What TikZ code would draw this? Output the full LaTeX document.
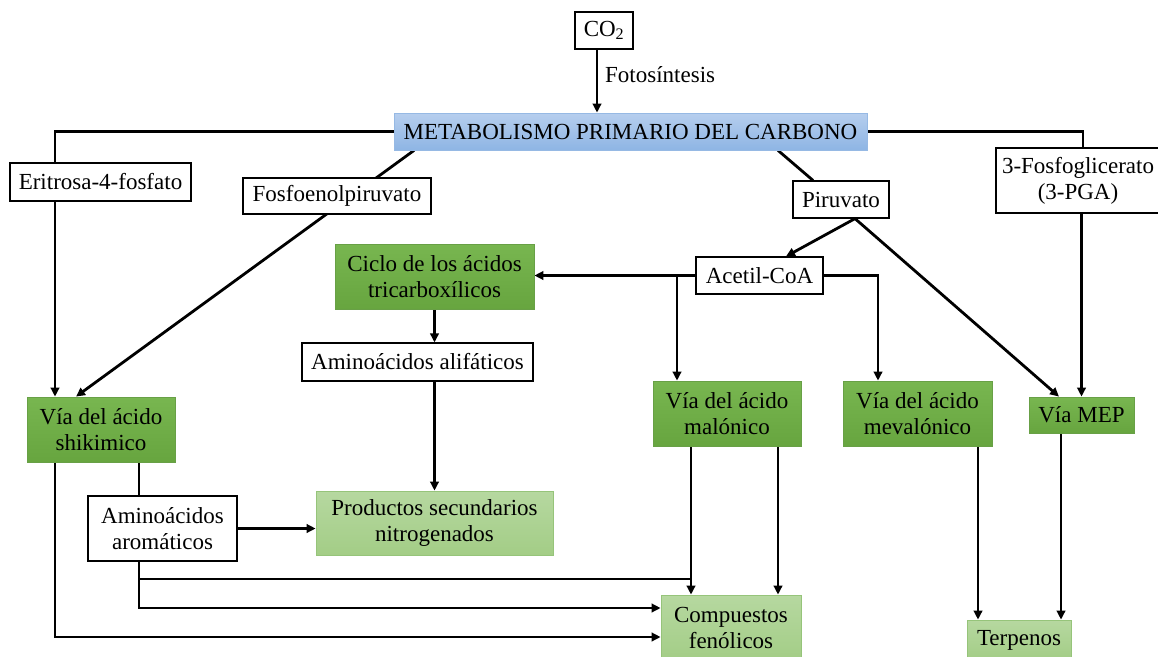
\documentclass[tikz,border=0pt]{standalone}
\usepackage{fontspec}
\setmainfont{Liberation Serif}
\usetikzlibrary{arrows.meta,backgrounds,calc}
\definecolor{dgt}{RGB}{120,182,80}
\definecolor{dgbot}{RGB}{103,165,63}
\definecolor{dgb}{RGB}{104,160,70}
\definecolor{lgt}{RGB}{182,216,160}
\definecolor{lgbot}{RGB}{163,205,134}
\definecolor{lgb}{RGB}{150,196,122}
\definecolor{blt}{RGB}{182,206,238}
\definecolor{blbot}{RGB}{142,181,228}
\definecolor{blb}{RGB}{150,185,228}
\begin{document}
\begin{tikzpicture}[x=1pt,y=-1pt,
  every node/.style={font=\fontsize{23}{26}\selectfont},
  base/.style={inner sep=0pt, align=center},
  wbox/.style={base, draw=black, line width=1.2pt, fill=white},
  gbox/.style={base, draw=dgb, line width=0.8pt, top color=dgt, bottom color=dgbot},
  lbox/.style={base, draw=lgb, line width=0.8pt, top color=lgt, bottom color=lgbot},
  bbox/.style={base, draw=blb, line width=0.8pt, top color=blt, bottom color=blbot},
  con/.style={line width=2.8pt, black},
  arr/.style={con, -{Triangle[length=9pt,width=8.5pt]}},
]
\useasboundingbox (0,0) rectangle (1158,656);

% nodes
\node[wbox, minimum width=58pt, minimum height=37pt] (CO2) at (604,30.5) {CO\textsubscript{2}};
\node[base, anchor=west] (fot) at (605,75) {Fotosíntesis};
\node[bbox, minimum width=473pt, minimum height=37pt] (META) at (630.5,131.5) {METABOLISMO PRIMARIO DEL CARBONO};
\node[wbox, minimum width=181pt, minimum height=38pt] (Eri) at (100.5,182) {Eritrosa-4-fosfato};
\node[wbox, minimum width=188pt, minimum height=36pt] (Fosfo) at (337,196) {Fosfoenolpiruvato};
\node[wbox, minimum width=96pt, minimum height=37pt] (Piru) at (841,199.5) {Piruvato};
\node[wbox, minimum width=164pt, minimum height=65pt] (PGA) at (1078,180.5) {3-Fosfoglicerato\\(3-PGA)};
\node[gbox, minimum width=199pt, minimum height=65pt] (Ciclo) at (434.5,276.5) {Ciclo de los ácidos\\tricarboxílicos};
\node[wbox, minimum width=127pt, minimum height=37pt] (Acetil) at (759.5,275.5) {Acetil-CoA};
\node[wbox, minimum width=231pt, minimum height=38pt] (Alif) at (417.5,362) {Aminoácidos alifáticos};
\node[gbox, minimum width=148pt, minimum height=65pt] (Shik) at (101,429.5) {Vía del ácido\\shikimico};
\node[gbox, minimum width=148pt, minimum height=65pt] (Malo) at (727,413.5) {Vía del ácido\\malónico};
\node[gbox, minimum width=149pt, minimum height=65pt] (Meva) at (917.5,413.5) {Vía del ácido\\mevalónico};
\node[gbox, minimum width=105pt, minimum height=36pt] (MEP) at (1081.5,415) {Vía MEP};
\node[wbox, minimum width=149pt, minimum height=65pt] (Arom) at (162.5,528.5) {Aminoácidos\\aromáticos};
\node[lbox, minimum width=237pt, minimum height=64pt] (Prod) at (434.5,523) {Productos secundarios\\nitrogenados};
\node[lbox, minimum width=140pt, minimum height=66pt] (Comp) at (731,628) {Compuestos\\fenólicos};
\node[lbox, minimum width=104pt, minimum height=40pt] (Terp) at (1019,640) {Terpenos};
\coordinate (j1) at (691,579);

\begin{pgfonlayer}{background}
\draw[arr] ([xshift=-7pt]CO2.south) -- ([xshift=-7pt]CO2.south |- META.north);
\draw[arr] (META.west) -| ([xshift=-46pt]Shik.north);
\draw[arr] ([xshift=-216.5pt]META.south) -- ([xshift=-25pt]Shik.north);
\draw[con] ([xshift=147.5pt]META.south) -- ([xshift=-28pt]Piru.north);
\draw[con] (META.east) -| ([xshift=5pt]PGA.north);
\draw[arr] (MEP.north |- PGA.south) -- (MEP.north);
\draw[arr] ([xshift=14pt]Piru.south) -- ([xshift=26.5pt]Acetil.north);
\draw[arr] ([xshift=14pt]Piru.south) -- ([xshift=-22.5pt]MEP.north);
\draw[arr] (Acetil.west) -- (Ciclo.east |- Acetil.west);
\draw[arr] ([xshift=-50pt]Malo.north |- Acetil.west) -- ([xshift=-50pt]Malo.north);
\draw[arr] (Acetil.east) -| ([xshift=-39.5pt]Meva.north);
\draw[arr] (Ciclo.south) -- (Ciclo.south |- Alif.north);
\draw[arr] (Prod.north |- Alif.south) -- (Prod.north);
\draw[arr] ([xshift=-46pt]Shik.south) |- ([yshift=-9pt]Comp.west);
\draw[con] ([xshift=38pt]Shik.south) -- ([xshift=38pt]Shik.south |- Arom.north);
\draw[arr] (Arom.east) -- (Prod.west |- Arom.east);
\draw[arr] ([xshift=-23.5pt]Arom.south) |- ([yshift=20pt]Comp.west);
\draw[con] ([xshift=-23.5pt]Arom.south |- j1) -- (j1);
\draw[arr] ([xshift=-36pt]Malo.south) -- ([xshift=-36pt]Malo.south |- Comp.north);
\draw[arr] ([xshift=51pt]Malo.south) -- ([xshift=51pt]Malo.south |- Comp.north);
\draw[arr] ([xshift=60.5pt]Meva.south) -- ([xshift=60.5pt]Meva.south |- Terp.north);
\draw[arr] ([xshift=-20.5pt]MEP.south) -- ([xshift=-20.5pt]MEP.south |- Terp.north);
\end{pgfonlayer}
\end{tikzpicture}
\end{document}
